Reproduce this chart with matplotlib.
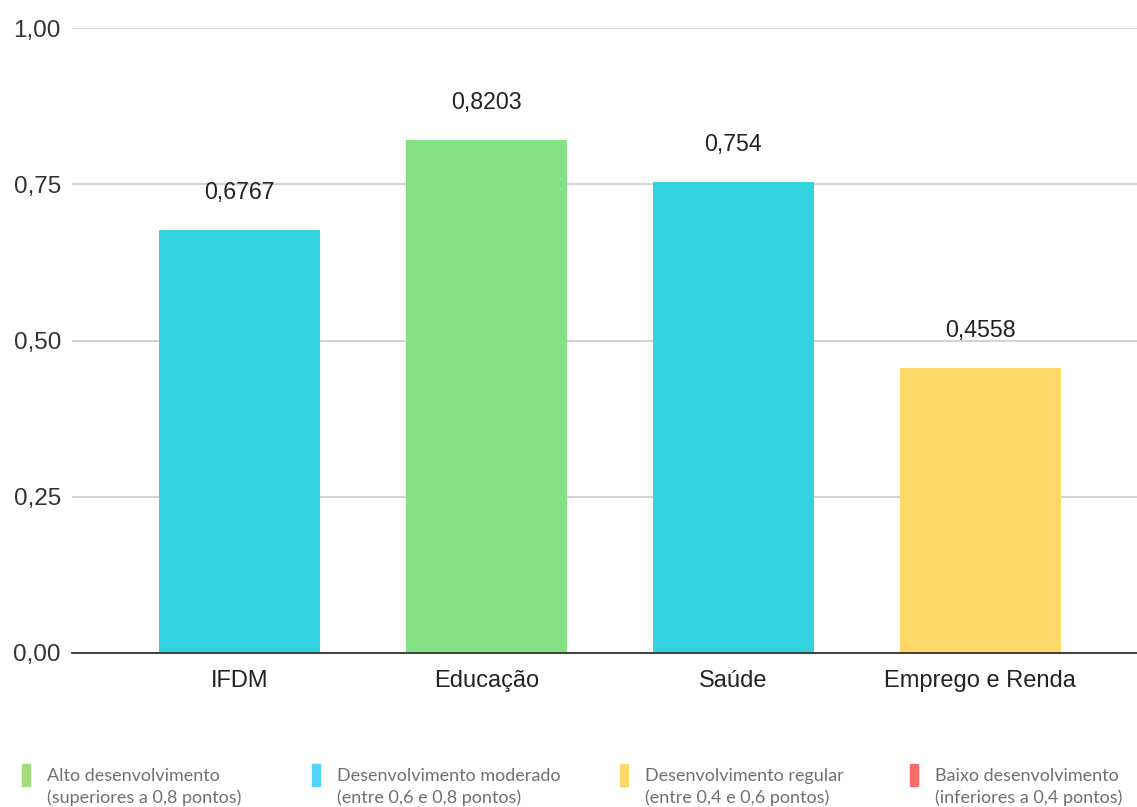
import matplotlib.pyplot as plt
from matplotlib.patches import Rectangle

categories = ["IFDM", "Educação", "Saúde", "Emprego e Renda"]
values = [0.6767, 0.8203, 0.754, 0.4558]
value_labels = ["0,6767", "0,8203", "0,754", "0,4558"]
bar_colors = ["#35d3df", "#84e184", "#35d3df", "#fed96a"]
yticks = [0.0, 0.25, 0.5, 0.75, 1.0]
ytick_labels = ["0,00", "0,25", "0,50", "0,75", "1,00"]

legend_titles = ["Alto desenvolvimento", "Desenvolvimento moderado",
                 "Desenvolvimento regular", "Baixo desenvolvimento"]
legend_notes = ["(superiores a 0,8 pontos)", "(entre 0,6 e 0,8 pontos)",
                "(entre 0,4 e 0,6 pontos)", "(inferiores a 0,4 pontos)"]
legend_colors = ["#a3dc7e", "#55d4fb", "#fed96a", "#f96b6b"]

W, H = 1137, 807
fig = plt.figure(figsize=(W / 100, H / 100), dpi=100)
ax = fig.add_axes([72 / W, (H - 653) / H, 1 - 72 / W, 625 / H])

x = list(range(len(categories)))
ax.bar(x, values, width=0.652, color=bar_colors, zorder=3)
for xi, v, lab in zip(x, values, value_labels):
    ax.text(xi, v + 0.06, lab, ha="center", va="center", fontsize=16.7,
            family="Liberation Sans", color="#222222", zorder=4)

ax.set_xlim(-0.678, 3.634)
ax.set_ylim(0, 1.0)
ax.set_yticks(yticks)
ax.set_yticklabels(ytick_labels, fontsize=17.5, family="Liberation Sans", color="#333333")
ax.set_xticks(x)
ax.set_xticklabels(categories, fontsize=17, family="Liberation Sans", color="#222222")
ax.tick_params(axis="x", length=0, pad=12)
ax.tick_params(axis="y", length=0, pad=8)
ax.grid(axis="y", color="#cccccc", linewidth=1.2, zorder=0)
for s in ["top", "right", "left"]:
    ax.spines[s].set_visible(False)
ax.spines["bottom"].set_color("#333333")
ax.spines["bottom"].set_linewidth(1.3)
ax.spines["bottom"].set_zorder(5)

# legend row below the chart
mark_x = [22, 312, 620, 910]
for mx, t, n, c in zip(mark_x, legend_titles, legend_notes, legend_colors):
    fig.patches.append(Rectangle((mx / W, (H - 786) / H), 8 / W, 22 / H,
                                 color=c, transform=fig.transFigure))
    fig.text((mx + 25) / W, (H - 776) / H, t, fontsize=13, family="Lato",
             color="#707070", va="center")
    fig.text((mx + 25) / W, (H - 798) / H, n, fontsize=13, family="Lato",
             color="#707070", va="center")

fig.savefig("out.png", dpi=100)
